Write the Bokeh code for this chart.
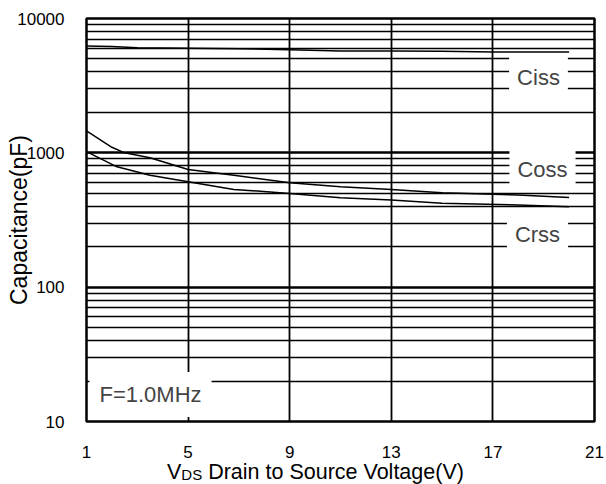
from bokeh.plotting import figure
from bokeh.models import Label, FixedTicker, PrintfTickFormatter, Div
from bokeh.layouts import column
from bokeh.embed import file_html
from bokeh.resources import INLINE

# ---- data ----
ciss_v = [1, 2, 3, 5, 7, 9, 11, 13, 15, 17, 20]
ciss_c = [6250, 6200, 6050, 6000, 5950, 5850, 5720, 5720, 5700, 5620, 5620]

coss_v = [1, 2, 2.5, 3.5, 5, 6.8, 9, 11, 13, 15, 18, 20]
coss_c = [1455, 1100, 1000, 920, 752, 682, 598, 559, 534, 504, 485, 466]

crss_v = [1, 2.2, 3.5, 5, 6.8, 9, 11, 13, 15, 18, 20]
crss_c = [1020, 787, 682, 608, 534, 499, 463, 446, 421, 409, 397]

x_ticks = [1, 5, 9, 13, 17, 21]
y_major = [10, 100, 1000, 10000]
y_minor = [m * d for d in [10, 100, 1000] for m in range(2, 10)]

y_title = "Capacitance(pF)"
x_title_main = "V"
x_title_sub = "DS"
x_title_rest = " Drain to Source Voltage(V)"
freq_note = "F=1.0MHz"

FONT = "Liberation Sans"

p = figure(width=606, height=460, x_range=(1, 21), y_range=(10, 10000),
           y_axis_type="log", output_backend="svg", toolbar_location=None,
           min_border_left=86, min_border_right=12, min_border_top=18,
           min_border_bottom=38)
p.background_fill_color = "white"
p.border_fill_color = "white"
p.outline_line_color = "black"
p.outline_line_width = 2.5
p.outline_line_alpha = 1.0

p.xaxis.ticker = FixedTicker(ticks=x_ticks)
p.yaxis.ticker = FixedTicker(ticks=y_major, minor_ticks=y_minor)
p.yaxis.formatter = PrintfTickFormatter(format="%d")

for ax in (p.xaxis, p.yaxis):
    ax.axis_line_color = None
    ax.major_tick_line_color = None
    ax.minor_tick_line_color = None
    ax.major_label_text_font = FONT
    ax.major_label_text_font_size = "17px"
    ax.major_label_text_color = "black"
p.xaxis.major_label_standoff = 18
p.yaxis.major_label_standoff = 16

p.yaxis.axis_label = y_title
p.yaxis.axis_label_text_font = FONT
p.yaxis.axis_label_text_font_size = "23px"
p.yaxis.axis_label_text_font_style = "normal"
p.yaxis.axis_label_text_color = "black"
p.yaxis.axis_label_standoff = -18

p.xgrid.grid_line_color = "black"
p.xgrid.grid_line_width = 1.8
p.xgrid.grid_line_alpha = 1.0
p.ygrid.grid_line_color = "black"
p.ygrid.grid_line_width = 2.4
p.ygrid.grid_line_alpha = 1.0
p.ygrid.minor_grid_line_color = "black"
p.ygrid.minor_grid_line_width = 1.4
p.ygrid.minor_grid_line_alpha = 1.0

for xs, ys in ((ciss_v, ciss_c), (coss_v, coss_c), (crss_v, crss_c)):
    p.line(xs, ys, line_color="black", line_width=1.5)

# pixel -> data helpers for placing annotation text (frame: x 86..594, y 18..422)
def dx(px):
    return 1 + (px - 86) / 25.4

def dy(py):
    return 10 ** (4 - (py - 18) / 134.67)

for txt, cx, cy in (("Ciss", 538, 77), ("Coss", 542, 169), ("Crss", 537, 235)):
    p.add_layout(Label(x=dx(cx), y=dy(cy), text=txt, text_font=FONT,
                       text_font_size="22px", text_align="center",
                       text_baseline="middle", background_fill_color="white",
                       padding=8))

p.add_layout(Label(x=dx(150), y=dy(395), text=freq_note, text_font=FONT,
                   text_font_size="22px", text_align="center",
                   text_baseline="middle", background_fill_color="white",
                   padding=10))

x_title_html = (
    f'<div style="font-family:\'{FONT}\'; font-size:21.5px; line-height:24px; '
    f'padding-left:167px; white-space:nowrap; color:black;">'
    f'{x_title_main}<span style="font-size:15px; position:relative; top:1px;">'
    f'{x_title_sub}</span>{x_title_rest.replace(" ", "&nbsp;", 1)}</div>'
)
div = Div(text=x_title_html, width=606, height=24, margin=0)

layout = column(p, div, spacing=0)
open("out.html", "w").write(file_html(layout, INLINE))
